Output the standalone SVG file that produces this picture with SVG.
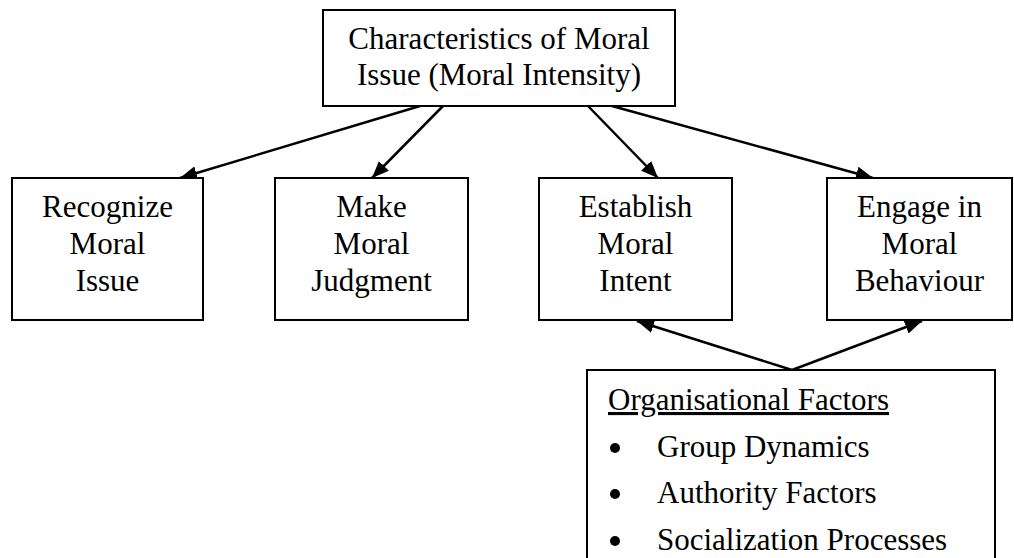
<svg xmlns="http://www.w3.org/2000/svg" width="1014" height="558" viewBox="0 0 1014 558">
<style>
.box{fill:#fff;stroke:#000;stroke-width:2}
.t{font-family:"Liberation Serif","Times New Roman",serif;font-size:31px;fill:#000}
.c{text-anchor:middle}
.edge{stroke:#000;stroke-width:2.5;fill:none;marker-end:url(#arr)}
</style>
<defs>
<marker id="arr" markerUnits="userSpaceOnUse" markerWidth="18" markerHeight="14" refX="17" refY="7" orient="auto">
<path d="M0,0 L17,7 L0,14 z" fill="#000"/>
</marker>
</defs>
<rect width="1014" height="558" fill="#fff"/>
<g id="connectors">
<line class="edge" x1="420" y1="106" x2="180" y2="178"/>
<line class="edge" x1="443" y1="106" x2="372" y2="178"/>
<line class="edge" x1="588" y1="106" x2="658" y2="178"/>
<line class="edge" x1="612" y1="106" x2="873" y2="178"/>
<line class="edge" x1="792" y1="370" x2="637" y2="321"/>
<line class="edge" x1="792" y1="370" x2="922" y2="321"/>
</g>
<g id="moral-intensity">
<rect class="box" x="323" y="10" width="352" height="96"/>
<text class="t c" x="499" y="49">Characteristics of Moral</text>
<text class="t c" x="499" y="85">Issue (Moral Intensity)</text>
</g>
<g id="recognize">
<rect class="box" x="12" y="178" width="191" height="142"/>
<text class="t c" x="107.5" y="217">Recognize</text>
<text class="t c" x="107.5" y="254">Moral</text>
<text class="t c" x="107.5" y="291">Issue</text>
</g>
<g id="judgment">
<rect class="box" x="275" y="178" width="193" height="142"/>
<text class="t c" x="371.5" y="217">Make</text>
<text class="t c" x="371.5" y="254">Moral</text>
<text class="t c" x="371.5" y="291">Judgment</text>
</g>
<g id="intent">
<rect class="box" x="539" y="178" width="193" height="142"/>
<text class="t c" x="635.5" y="217">Establish</text>
<text class="t c" x="635.5" y="254">Moral</text>
<text class="t c" x="635.5" y="291">Intent</text>
</g>
<g id="behaviour">
<rect class="box" x="827" y="178" width="185" height="142"/>
<text class="t c" x="919.5" y="217">Engage in</text>
<text class="t c" x="919.5" y="254">Moral</text>
<text class="t c" x="919.5" y="291">Behaviour</text>
</g>
<g id="organisational-factors">
<rect class="box" x="587" y="370" width="408" height="200"/>
<text class="t" x="608" y="410" text-decoration="underline">Organisational Factors</text>
<circle cx="615" cy="448" r="5"/>
<text class="t" x="657" y="457">Group Dynamics</text>
<circle cx="615" cy="494" r="5"/>
<text class="t" x="657" y="503">Authority Factors</text>
<circle cx="615" cy="541" r="5"/>
<text class="t" x="657" y="550">Socialization Processes</text>
</g>
</svg>
